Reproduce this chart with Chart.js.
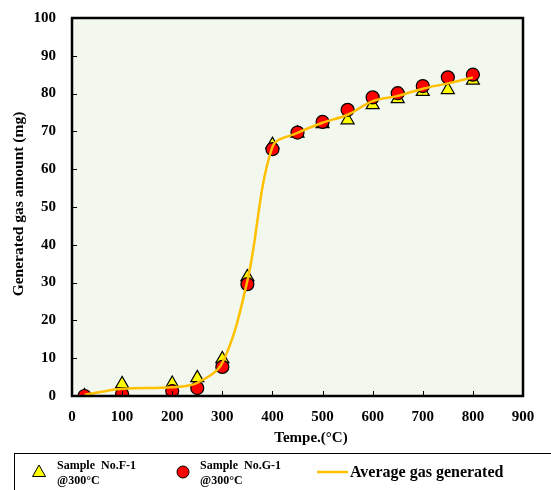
<!DOCTYPE html>
<html>
<head>
<meta charset="utf-8">
<script src="https://cdn.jsdelivr.net/npm/chart.js@4/dist/chart.umd.min.js"></script>
<style>
  html, body { margin: 0; padding: 0; background: #ffffff; }
  #wrap { width: 551px; height: 490px; }
</style>
</head>
<body>
<div id="wrap"><canvas id="c" width="551" height="490"></canvas></div>
<script>
// Temperatures (°C) at which gas was measured
const temps = [25, 100, 200, 250, 300, 350, 400, 450, 500, 550, 600, 650, 700, 750, 800];
// Generated gas (mg), sample F-1
const sampleF1 = [0, 3.2, 3.3, 4.8, 9.8, 31.5, 66.5, 69.5, 72.0, 73.0, 77.0, 78.6, 80.5, 81.0, 83.5];
// Generated gas (mg), sample G-1
const sampleG1 = [0, 0.5, 1.3, 2.1, 7.7, 29.6, 65.3, 69.7, 72.5, 75.7, 79.0, 80.1, 82.0, 84.3, 85.0];
// Average of the two samples (mg)
const averageGas = [0.3, 1.9, 2.3, 3.5, 8.8, 30.5, 65.9, 69.6, 72.3, 74.4, 78.0, 79.4, 81.3, 82.7, 84.3];

const xTicks = [0, 100, 200, 300, 400, 500, 600, 700, 800, 900];
const yTicks = [0, 10, 20, 30, 40, 50, 60, 70, 80, 90, 100];

const legendF = ['Sample  No.F-1', '@300°C'];
const legendG = ['Sample  No.G-1', '@300°C'];
const legendAvg = 'Average gas generated';
const xTitle = 'Tempe.(°C)';
const yTitle = 'Generated gas amount (mg)';

const SERIF = "'Liberation Serif', 'Times New Roman', serif";
const LINE_COLOR = '#FFC000';

const toPts = (ys) => temps.map((t, i) => ({ x: t, y: ys[i] }));

// Plot background, inner tick marks, frame, axis titles and the boxed legend
const decorations = {
  id: 'decorations',
  beforeDatasetsDraw(chart) {
    const { ctx, chartArea: a } = chart;
    ctx.save();
    ctx.fillStyle = '#F3F8EE';
    ctx.fillRect(a.left, a.top, a.right - a.left, a.bottom - a.top);
    ctx.restore();
  },
  afterDatasetsDraw(chart) {
    const { ctx, chartArea: a, scales } = chart;
    ctx.save();
    // inner ticks
    ctx.strokeStyle = '#000';
    ctx.lineWidth = 1;
    xTicks.forEach(v => {
      const px = Math.round(scales.x.getPixelForValue(v)) + 0.5;
      ctx.beginPath(); ctx.moveTo(px, a.bottom); ctx.lineTo(px, a.bottom - 5); ctx.stroke();
    });
    yTicks.forEach(v => {
      const py = Math.round(scales.y.getPixelForValue(v)) + 0.5;
      ctx.beginPath(); ctx.moveTo(a.left, py); ctx.lineTo(a.left + 5, py); ctx.stroke();
    });
    // frame
    ctx.lineWidth = 2.5;
    ctx.strokeStyle = '#000';
    ctx.strokeRect(a.left, a.top, a.right - a.left, a.bottom - a.top);

    // axis titles
    ctx.fillStyle = '#000';
    ctx.font = 'bold 15px ' + SERIF;
    ctx.textAlign = 'center';
    ctx.textBaseline = 'middle';
    ctx.fillText(xTitle, 311, 438);
    ctx.save();
    ctx.translate(19, 204);
    ctx.rotate(-Math.PI / 2);
    ctx.font = 'bold 15.5px ' + SERIF;
    ctx.fillText(yTitle, 0, 0);
    ctx.restore();

    // legend box
    ctx.lineWidth = 1;
    ctx.strokeRect(14.5, 453.5, 560, 60);
    const ly = 472;
    // triangle marker
    ctx.fillStyle = '#FFFF00';
    ctx.beginPath();
    ctx.moveTo(39, ly - 7); ctx.lineTo(45.5, ly + 4.5); ctx.lineTo(32.5, ly + 4.5); ctx.closePath();
    ctx.fill(); ctx.stroke();
    // circle marker
    ctx.fillStyle = '#FF0000';
    ctx.beginPath(); ctx.arc(183, ly, 6, 0, Math.PI * 2); ctx.fill(); ctx.stroke();
    // line marker
    ctx.strokeStyle = LINE_COLOR; ctx.lineWidth = 2.5;
    ctx.beginPath(); ctx.moveTo(317, ly); ctx.lineTo(348, ly); ctx.stroke();

    ctx.fillStyle = '#000';
    ctx.textAlign = 'left';
    ctx.font = 'bold 12px ' + SERIF;
    ctx.fillText(legendF[0], 57, 466);
    ctx.fillText(legendF[1], 57, 481);
    ctx.fillText(legendG[0], 200, 466);
    ctx.fillText(legendG[1], 200, 481);
    ctx.font = 'bold 16px ' + SERIF;
    ctx.fillText(legendAvg, 350, 473);
    ctx.restore();
  }
};

new Chart(document.getElementById('c'), {
  type: 'scatter',
  data: {
    datasets: [
      {
        label: legendF.join(' '),
        data: toPts(sampleF1),
        order: 2,
        pointStyle: 'triangle',
        pointRadius: 7.5,
        backgroundColor: '#FFFF00',
        borderColor: '#000000',
        borderWidth: 1.2,
        showLine: false
      },
      {
        label: legendG.join(' '),
        data: toPts(sampleG1),
        order: 1,
        pointStyle: 'circle',
        pointRadius: 6.5,
        backgroundColor: '#FF0000',
        borderColor: '#000000',
        borderWidth: 1.2,
        showLine: false
      },
      {
        label: legendAvg,
        data: toPts(averageGas),
        order: 0,
        showLine: true,
        pointRadius: 0,
        borderColor: LINE_COLOR,
        borderWidth: 2.5,
        tension: 0.35,
        fill: false
      }
    ]
  },
  options: {
    responsive: false,
    animation: false,
    events: [],
    layout: { padding: { top: 18, right: 28, left: 0, bottom: 0 } },
    plugins: { legend: { display: false }, tooltip: { enabled: false } },
    scales: {
      x: {
        type: 'linear', min: 0, max: 900,
        afterFit: s => { s.height = 94; s.paddingLeft = 0; s.paddingRight = 0; },
        afterBuildTicks: s => { s.ticks = xTicks.map(v => ({ value: v })); },
        grid: { display: false, drawTicks: false },
        border: { display: false },
        ticks: { padding: 12, color: '#000', font: { family: SERIF, size: 15, weight: 'bold' } }
      },
      y: {
        type: 'linear', min: 0, max: 100,
        afterFit: s => { s.width = 72; s.paddingTop = 0; s.paddingBottom = 0; },
        afterBuildTicks: s => { s.ticks = yTicks.map(v => ({ value: v })); },
        grid: { display: false, drawTicks: false },
        border: { display: false },
        ticks: { padding: 16, color: '#000', font: { family: SERIF, size: 15, weight: 'bold' } }
      }
    }
  },
  plugins: [decorations]
});
</script>
</body>
</html>
